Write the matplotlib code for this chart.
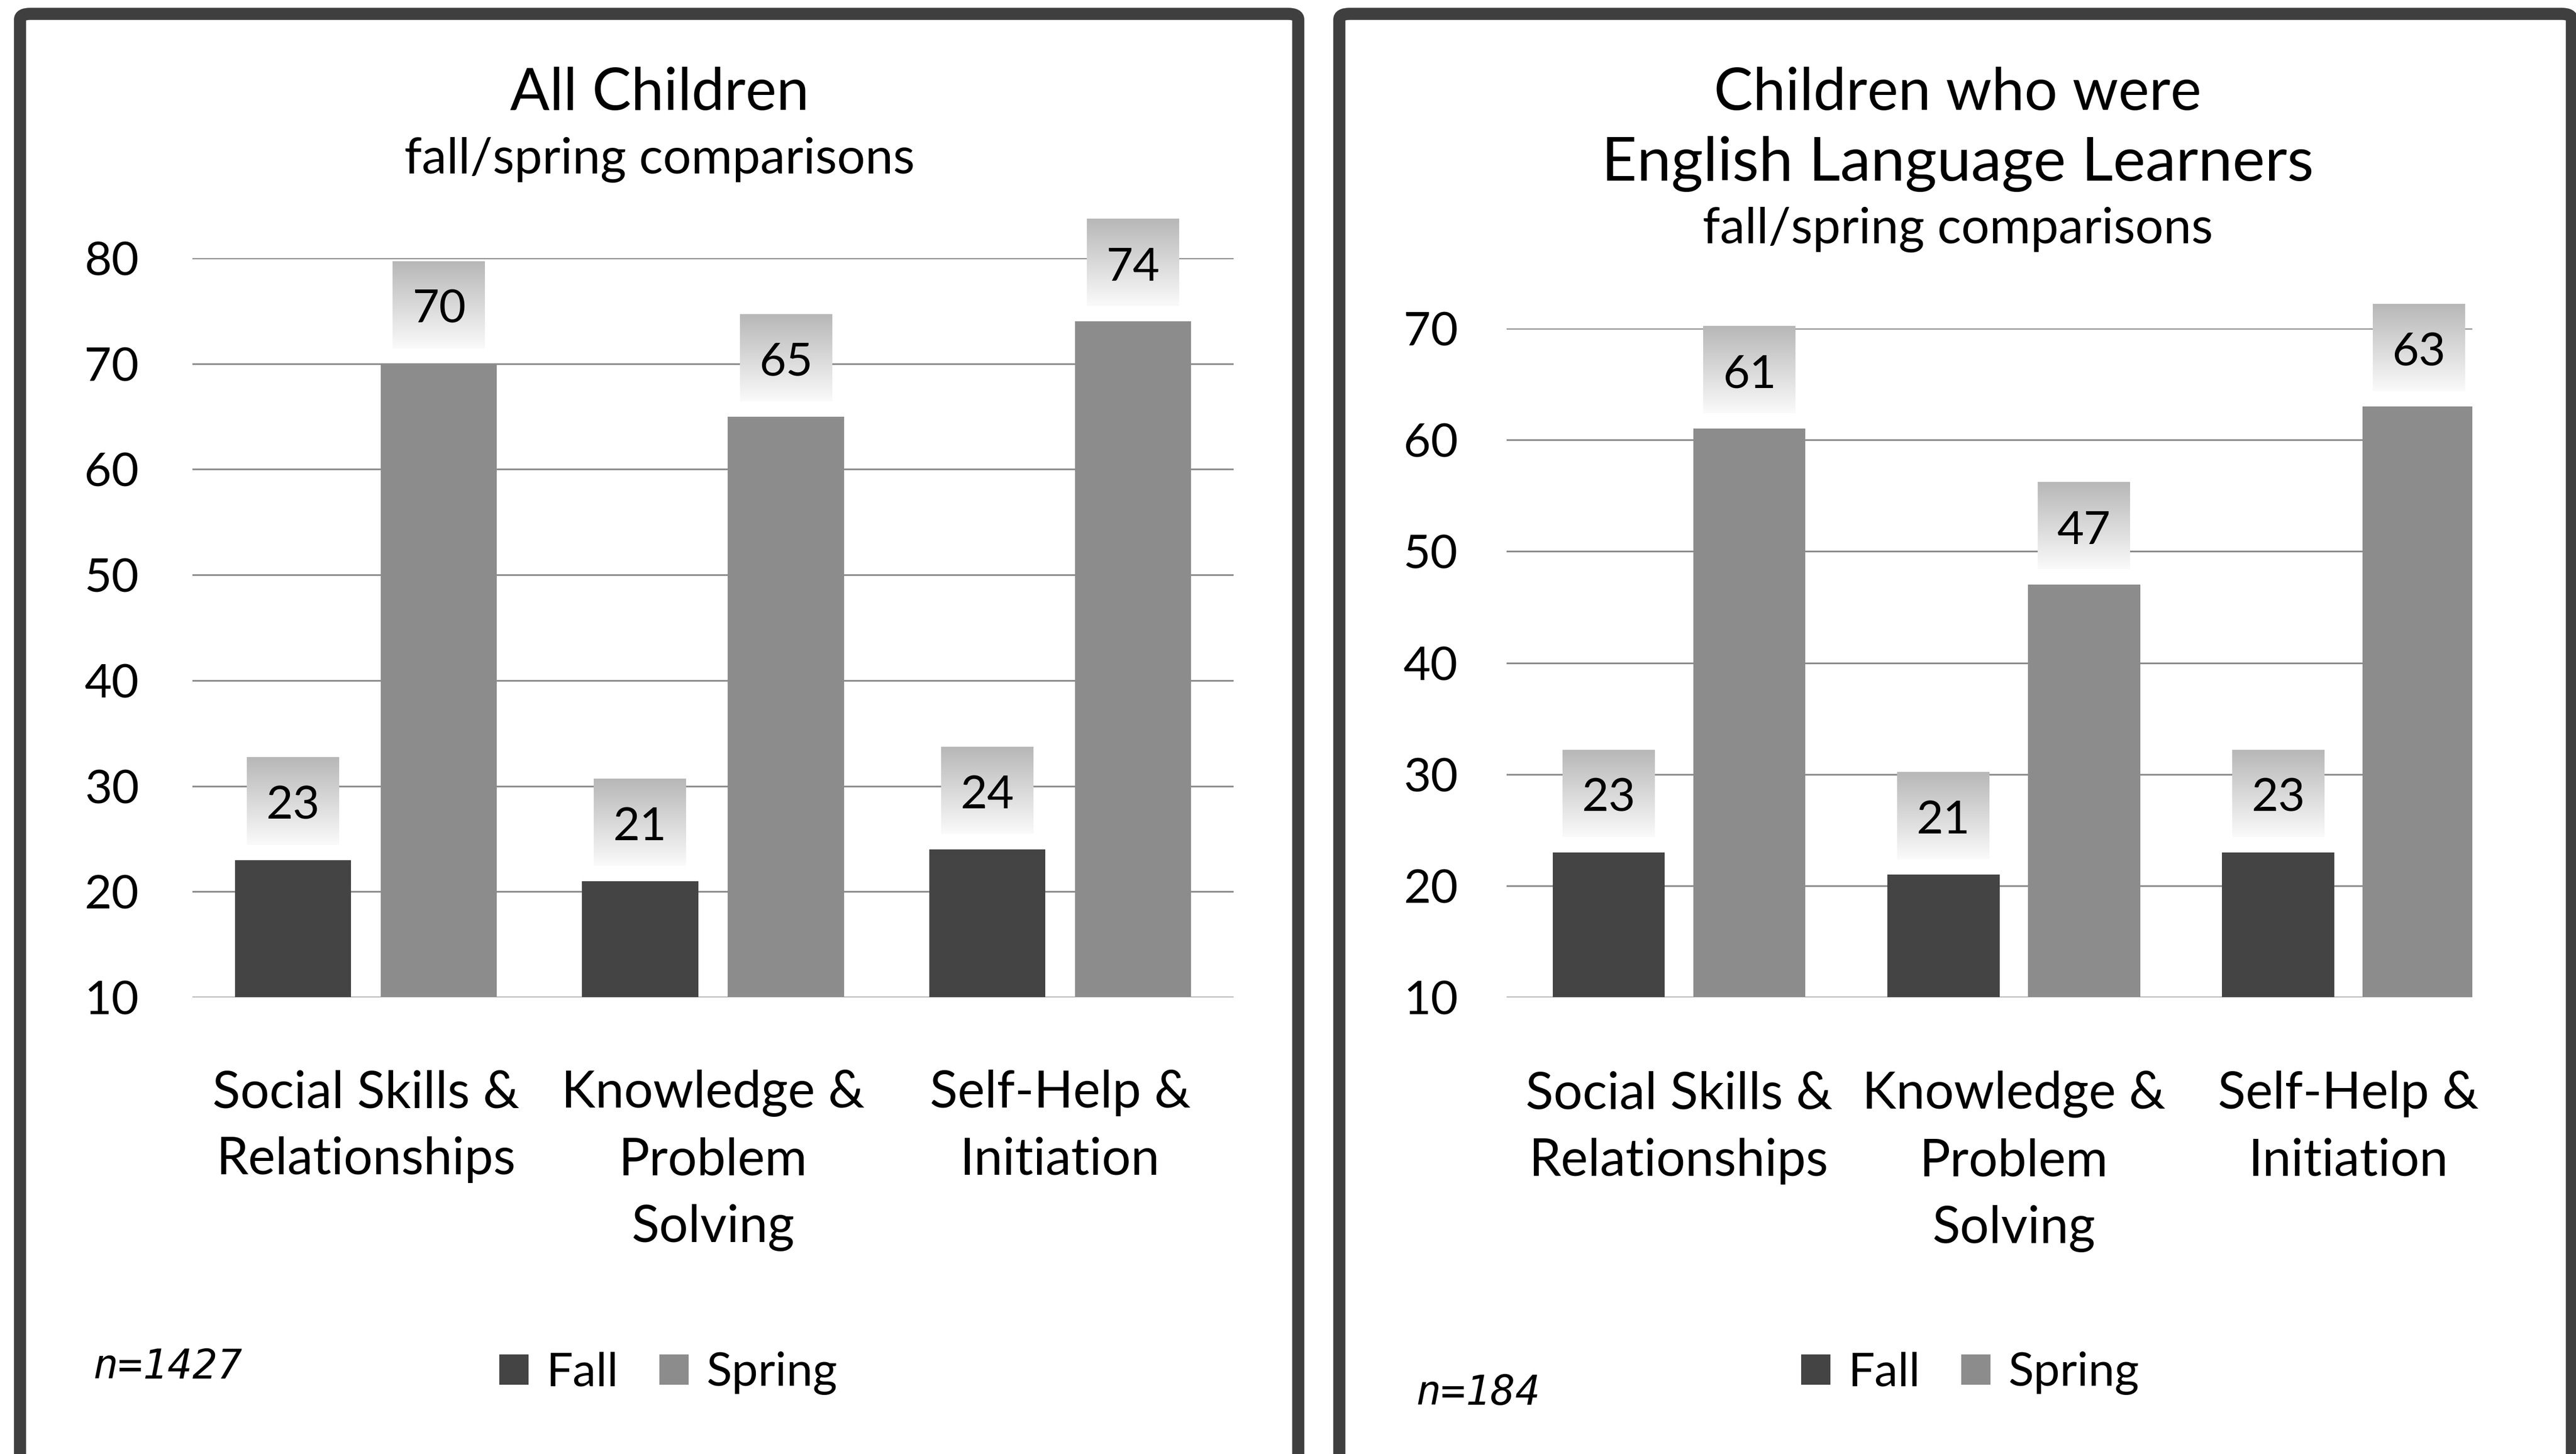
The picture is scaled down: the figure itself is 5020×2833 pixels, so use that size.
import matplotlib.pyplot as plt
import numpy as np
from matplotlib.patches import FancyBboxPatch

categories = ["Social Skills &\nRelationships", "Knowledge &\nProblem\nSolving", "Self-Help &\nInitiation"]
series = ["Fall", "Spring"]

all_fall = [23, 21, 24]
all_spring = [70, 65, 74]
ell_fall = [23, 21, 23]
ell_spring = [61, 47, 63]

all_ticks = [10, 20, 30, 40, 50, 60, 70, 80]
ell_ticks = [10, 20, 30, 40, 50, 60, 70]

W, H = 5020, 2833
fig = plt.figure(figsize=(W / 100, H / 100), dpi=100)
fig.patch.set_facecolor("white")

FONT = "Lato"
FALL_C = "#444444"
SPRING_C = "#8c8c8c"
BORDER_C = "#3f3f3f"


def px_axes(x0, x1, ytop, ybot):
    return fig.add_axes([x0 / W, (H - ybot) / H, (x1 - x0) / W, (ybot - ytop) / H])


def panel(x0, x1):
    # thick rounded frame around each chart
    p = FancyBboxPatch((x0 / W, -0.2), (x1 - x0) / W, (H - 27) / H + 0.2,
                       boxstyle="round,pad=0,rounding_size=0.004",
                       transform=fig.transFigure, fill=False,
                       edgecolor=BORDER_C, linewidth=17, zorder=0)
    fig.patches.append(p)


def label_box(ax, x, val, text):
    # value label on a soft grey gradient tile above the bar
    bbox = ax.get_window_extent()
    xl, yl = ax.get_xlim(), ax.get_ylim()
    ux = bbox.width / (xl[1] - xl[0])
    uy = bbox.height / (yl[1] - yl[0])
    bw, bh, gap = 180 / ux, 170 / uy, 30 / uy
    y0 = val + gap
    grad = np.linspace(0.72, 0.98, 64).reshape(-1, 1)
    rgba = np.ones((64, 1, 4))
    rgba[..., 0] = rgba[..., 1] = rgba[..., 2] = grad
    ax.imshow(rgba, extent=[x - bw / 2, x + bw / 2, y0, y0 + bh], origin="upper",
              aspect="auto", clip_on=False, zorder=4, interpolation="bilinear")
    ax.text(x, y0 + bh * 0.44, text, ha="center", va="center", fontsize=65,
            family=FONT, color="black", zorder=5, clip_on=False)
    ax.set_xlim(xl)
    ax.set_ylim(yl)


def draw(ax, fall, spring, ticks, xlim, tick_pad, cat_y):
    x = np.arange(len(categories))
    off, bw = 0.21, 0.335
    ax.set_xlim(xlim)
    ax.set_ylim(ticks[0], ticks[-1])
    b1 = ax.bar(x - off, np.array(fall) - ticks[0], bw, bottom=ticks[0],
                color=FALL_C, label=series[0], zorder=3)
    b2 = ax.bar(x + off, np.array(spring) - ticks[0], bw, bottom=ticks[0],
                color=SPRING_C, label=series[1], zorder=3)
    ax.set_yticks(ticks)
    ax.set_yticklabels([str(t) for t in ticks], family=FONT, fontsize=66)
    ax.tick_params(axis="y", length=0, pad=tick_pad)
    ax.set_xticks([])
    ax.yaxis.grid(True, color="#8a8a8a", linewidth=2.4)
    ax.set_axisbelow(True)
    for s in ax.spines.values():
        s.set_visible(False)
    for i in range(len(categories)):
        ax.text(x[i], cat_y, categories[i], transform=ax.get_xaxis_transform(),
                ha="center", va="top", fontsize=72, family=FONT, linespacing=1.53)
    for i in range(len(categories)):
        label_box(ax, x[i] - off, fall[i], str(fall[i]))
        label_box(ax, x[i] + off, spring[i], str(spring[i]))
    return b1, b2


panel(39, 2530)
panel(2610, 5012)

ax1 = px_axes(375, 2404, 503, 1943)
h1 = draw(ax1, all_fall, all_spring, all_ticks, (-0.5, 2.5), 75, -0.098)
ax2 = px_axes(2936, 4818, 640, 1943)
h2 = draw(ax2, ell_fall, ell_spring, ell_ticks, (-0.515, 2.37), 68, -0.11)

# titles
fig.text(1285 / W, 1 - 182 / H, "All Children", ha="center", va="center",
         fontsize=82, family=FONT)
fig.text(1285 / W, 1 - 311 / H, "fall/spring comparisons", ha="center", va="center",
         fontsize=70, family=FONT)
fig.text(3815 / W, 1 - 182 / H, "Children who were", ha="center", va="center",
         fontsize=82, family=FONT)
fig.text(3815 / W, 1 - 320 / H, "English Language Learners", ha="center", va="center",
         fontsize=86, family=FONT)
fig.text(3815 / W, 1 - 448 / H, "fall/spring comparisons", ha="center", va="center",
         fontsize=70, family=FONT)

# sample sizes
fig.text(182 / W, 1 - 2664 / H, "n=1427", ha="left", va="center", fontsize=58,
         family="DejaVu Sans Mono", style="italic")
fig.text(2760 / W, 1 - 2715 / H, "n=184", ha="left", va="center", fontsize=58,
         family="DejaVu Sans Mono", style="italic")

# legends
for ax, hs, cx in [(ax1, h1, 1303), (ax2, h2, 3840)]:
    leg = ax.legend(hs, series, loc="center", bbox_to_anchor=(cx / W, 1 - 2676 / H),
                    bbox_transform=fig.transFigure, ncol=2, frameon=False,
                    prop={"family": FONT, "size": 66}, handlelength=0.62,
                    handleheight=0.62, handletextpad=0.38, columnspacing=0.87)

fig.savefig("out.png", dpi=100, facecolor="white")
